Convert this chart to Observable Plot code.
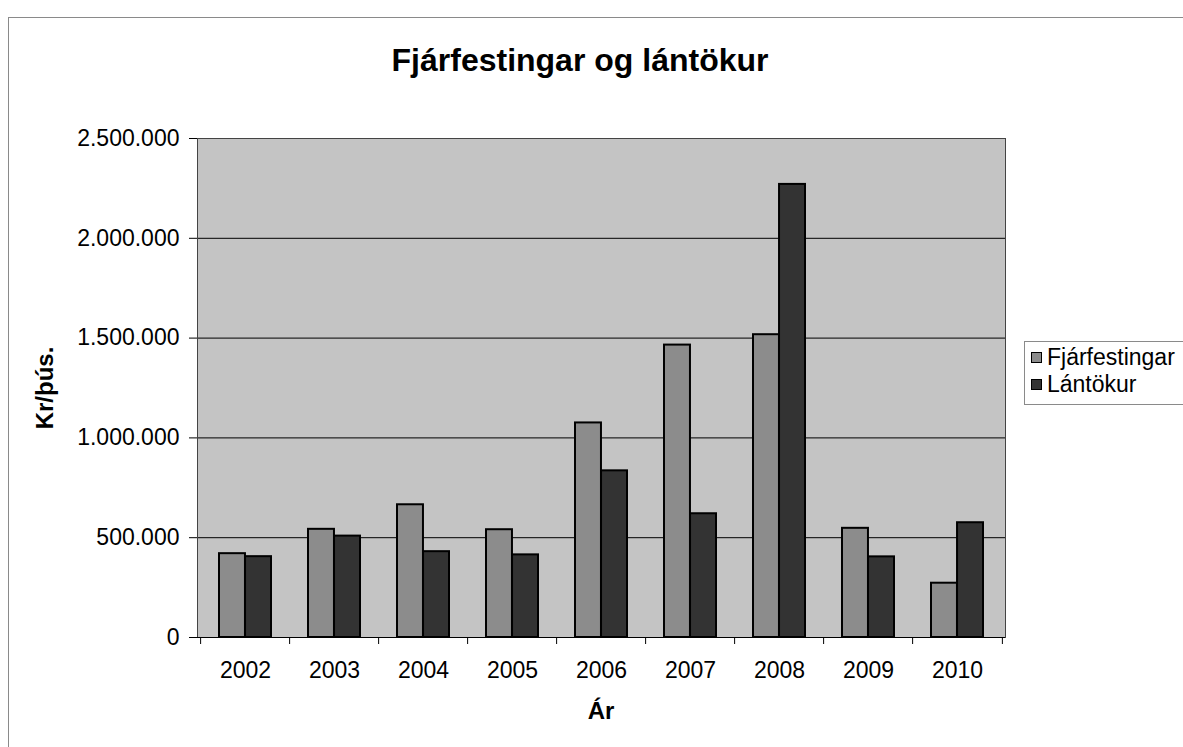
<!DOCTYPE html>
<html>
<head>
<meta charset="utf-8">
<script src="https://cdn.jsdelivr.net/npm/d3@7"></script>
<script src="https://cdn.jsdelivr.net/npm/@observablehq/plot@0.6"></script>
<style>
  body { margin: 0; background: #fff; font-family: "Liberation Sans", Arial, sans-serif; color: #000; }
  #wrap { position: relative; width: 1183px; height: 747px; overflow: hidden; }
  #border { position: absolute; left: 8px; top: 17px; width: 1300px; height: 900px;
            border-left: 1px solid #8a8a8a; border-top: 1px solid #8a8a8a; }
  #chart { position: absolute; left: 0; top: 0; }
  .title { position: absolute; left: 330px; width: 500px; top: 42px; text-align: center;
           font-weight: bold; font-size: 32px; line-height: 36px; }
  .xlabel { position: absolute; left: 551px; width: 100px; top: 697px; text-align: center;
            font-weight: bold; font-size: 24px; line-height: 28px; }
  .ylabel { position: absolute; left: 45px; top: 388px; font-weight: bold; font-size: 24px; line-height: 28px;
            transform: translate(-50%, -50%) rotate(-90deg); white-space: nowrap; }
  #legend { position: absolute; left: 1024px; top: 341px; width: 200px; height: 62px;
            border: 1px solid #8a8a8a; background: #fff; font-size: 23px; }
  .item { position: absolute; left: 6px; display: flex; align-items: center; white-space: nowrap; line-height: 26px; }
  .sw { width: 11px; height: 11px; border: 1px solid #000; margin-right: 5px; box-sizing: border-box; }
</style>
</head>
<body>
<div id="wrap">
  <div id="border"></div>
  <div id="chart"></div>
  <div class="title">Fjárfestingar og lántökur</div>
  <div class="xlabel">Ár</div>
  <div class="ylabel">Kr/þús.</div>
  <div id="legend"></div>
</div>
<script>
// ---- data ----
const years = ["2002", "2003", "2004", "2005", "2006", "2007", "2008", "2009", "2010"];
const fjarfestingar = [420000, 542000, 665000, 540000, 1075000, 1465000, 1517000, 547000, 272000];
const lantokur = [405000, 508000, 430000, 414000, 835000, 620000, 2270000, 404000, 575000];
const seriesNames = ["Fjárfestingar", "Lántökur"];
const seriesColors = ["#8c8c8c", "#333333"];
const yTicks = [0, 500000, 1000000, 1500000, 2000000, 2500000];

const data = years.flatMap((y, i) => [
  {year: y, series: seriesNames[0], value: fjarfestingar[i]},
  {year: y, series: seriesNames[1], value: lantokur[i]}
]);

const W = 1183, H = 747, mL = 197, mR = 178, mT = 138, mB = 110;
const xPadInner = 0.42, xPadOuter = 0.21;
const band = d3.scaleBand(years, [mL, W - mR]).paddingInner(xPadInner).paddingOuter(xPadOuter);
const bw = band.bandwidth(), step = band.step();

const isl = d3.formatLocale({decimal: ",", thousands: ".", grouping: [3], currency: ["", ""]});
const fmt = isl.format(",");

const chart = Plot.plot({
  width: W, height: H,
  marginLeft: mL, marginRight: mR, marginTop: mT, marginBottom: mB,
  style: {fontFamily: "'Liberation Sans', Arial, sans-serif", fontSize: "23px", color: "#000", background: "transparent"},
  x: {domain: years, paddingInner: xPadInner, paddingOuter: xPadOuter, label: null},
  y: {domain: [0, 2500000], label: null},
  color: {domain: seriesNames, range: seriesColors},
  marks: [
    Plot.frame({fill: "#c4c4c4", stroke: null}),
    Plot.ruleY(yTicks.slice(1, -1), {stroke: "#000", strokeWidth: 1}),
    Plot.barY(data.filter(d => d.series === seriesNames[0]),
      {x: "year", y: "value", fill: "series", stroke: "#000", strokeWidth: 2, insetRight: bw / 2}),
    Plot.barY(data.filter(d => d.series === seriesNames[1]),
      {x: "year", y: "value", fill: "series", stroke: "#000", strokeWidth: 2, insetLeft: bw / 2}),
    Plot.frame({stroke: "#444", strokeWidth: 1}),
    Plot.ruleY([0], {stroke: "#000", strokeWidth: 1.2}),
    Plot.axisY({ticks: yTicks, tickFormat: fmt, tickSize: 8, tickPadding: 10, fontSize: 23, label: null}),
    Plot.axisX({tickSize: 0, tickPadding: 24, fontSize: 23, label: null}),
    Plot.axisX({tickSize: 7, tickFormat: () => "", dx: -step / 2, label: null}),
    Plot.axisX({ticks: [years[years.length - 1]], tickSize: 7, tickFormat: () => "", dx: step / 2, label: null})
  ]
});
document.getElementById("chart").appendChild(chart);

// legend
const legend = document.getElementById("legend");
seriesNames.forEach((name, i) => {
  const it = document.createElement("div");
  it.className = "item";
  it.style.top = (i === 0 ? 2 : 29) + "px";
  const sw = document.createElement("span");
  sw.className = "sw";
  sw.style.background = seriesColors[i];
  const tx = document.createElement("span");
  tx.textContent = name;
  it.appendChild(sw); it.appendChild(tx);
  legend.appendChild(it);
});
</script>
</body>
</html>
